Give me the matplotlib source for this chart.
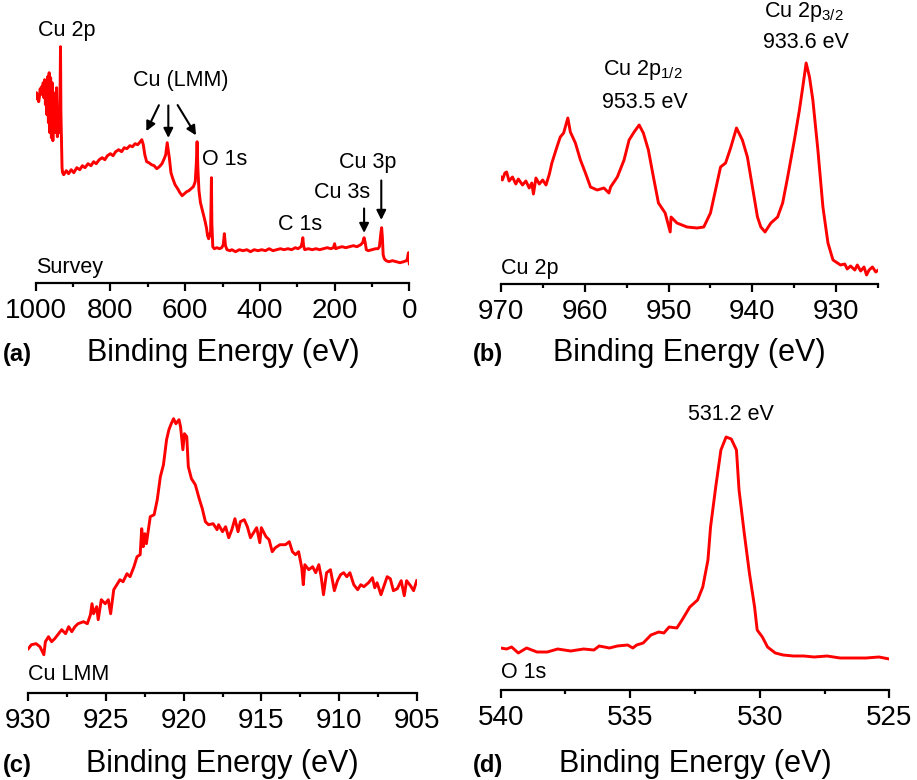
import matplotlib
matplotlib.use("Agg")
import matplotlib.pyplot as plt
from matplotlib.ticker import MultipleLocator

plt.rcParams['font.family'] = ['Liberation Sans', 'DejaVu Sans']
plt.rcParams['mathtext.default'] = 'regular'

# (a) survey spectrum, intensity in a.u.
survey_ev = [1000, 998, 996, 994, 992, 990, 988, 986, 984, 982, 980, 978, 976, 974, 972, 970,
             968, 966, 964, 962, 960, 958, 956, 954, 952, 950, 948, 946, 944, 942, 940, 938,
             936, 934.5, 933.6, 932.5, 931, 929.5, 928,
             925, 918, 912, 905, 898, 890, 882, 875, 868, 860, 852, 845, 838, 830, 822, 815,
             808, 800, 793, 786, 778, 770, 763, 756, 748, 741, 734, 727, 720, 716, 712, 708,
             703, 697, 690, 683, 676, 669, 662, 656, 652, 648, 645, 642, 638, 633, 627, 620,
             614, 608, 602, 596, 590, 584, 578, 573, 570, 568, 566, 563, 559, 555, 551, 547,
             543, 540, 537, 534, 532, 530.5, 529.6, 528.5, 526, 522, 515, 508, 502, 498, 495,
             492, 488, 480, 475, 465, 455, 445, 435, 425, 415, 405, 395, 385, 375, 365, 355,
             345, 335, 325, 315, 305, 298, 290, 287, 285, 283, 280, 270, 260, 250, 240, 230,
             220, 210, 203, 200, 197, 190, 180, 170, 160, 150, 140, 130, 125, 121, 118, 115,
             110, 100, 90, 84, 80, 76, 74, 72, 70, 67, 62, 55, 45, 35, 25, 15, 8, 5, 3, 2, 1, 0]
survey_int = [184, 190, 185, 188, 181, 186, 194, 189, 196, 188, 200, 185, 203, 178, 198, 168,
              206, 160, 210, 150, 205, 145, 200, 142, 190, 155, 185, 150, 195, 146, 175, 150,
              160, 200, 236, 170, 142, 115, 110,
              108, 112, 109, 113, 110, 115, 113, 117, 115, 119, 117, 121, 119, 123, 125, 123,
              127, 129, 127, 131, 133, 131, 135, 134, 137, 136, 139, 138, 141, 143, 138, 128,
              121, 120, 118, 117, 114, 116, 119, 124, 128, 140, 132, 124, 110, 104, 98, 94,
              90, 87, 89, 91, 92, 94, 96, 101, 120, 141, 115, 92, 80, 74, 68, 62,
              55, 47, 44, 49, 47, 80, 105, 60, 36, 34, 35, 34, 35, 38, 49,
              37, 33, 32, 33, 31, 33, 32, 33, 31, 33, 32, 33, 32, 34, 32, 33,
              34, 33, 34, 33, 35, 34, 36, 40, 45, 37, 33, 34, 33, 34, 33, 34,
              35, 34, 35, 39, 34, 35, 36, 35, 36, 37, 36, 38, 40, 45, 40, 33,
              32, 33, 34, 34, 36, 50, 55, 45, 28, 24, 22, 21, 22, 21, 20, 21, 22, 24, 29, 30, 22, 19]

# (b) Cu 2p
cu2p_ev = [970.0, 969.8, 969.5, 969.3, 969.0, 968.6, 968.2, 967.9, 967.4, 967.0, 966.6, 966.3,
           966.1, 965.8, 965.4, 965.0, 964.6, 964.2, 963.9,
           963.3, 962.9, 962.5, 962.0, 961.7, 961.1, 960.5, 959.9, 959.3, 958.5, 957.7, 957.1,
           956.9, 956.1, 955.3, 954.7, 954.1, 953.5, 953.0, 952.4, 951.8, 951.2, 950.4, 949.8,
           949.7, 949.0, 947.8, 946.6, 945.8, 945.0, 944.4, 943.8, 943.2, 942.6, 941.9, 941.2,
           940.6, 940.0, 939.4, 939.0, 938.5, 937.8, 937.0, 936.4, 935.8, 935.0, 934.4, 934.0,
           933.6, 933.2, 932.8, 932.2, 931.6, 931.0, 930.4, 929.5, 929.0, 928.7, 928.3, 927.8,
           927.5, 927.1, 926.7, 926.4, 926.1, 925.7, 925.3, 925.0]
cu2p_int = [107, 104, 111, 112, 103, 107, 100, 105, 99, 103, 96, 101,
            90, 106, 100, 104, 99, 110, 121,
            137, 147, 151, 166, 152, 141, 124, 111, 97, 94, 96, 91,
            97, 107, 124, 144, 152, 159, 151, 134, 107, 81, 71, 52,
            67, 61, 57, 56, 57, 71, 94, 117, 121, 136, 156, 144,
            127, 97, 67, 57, 52, 61, 67, 81, 107, 144, 174, 197,
            221, 207, 184, 134, 77, 41, 24, 19, 20, 15, 18, 14,
            19, 13, 17, 9, 14, 17, 12, 14]

# (c) Cu LMM
lmm_ev = [930.0, 929.8, 929.5, 929.25, 929.0, 928.9, 928.7, 928.5, 928.3, 928.1, 927.85, 927.6,
          927.4, 927.2, 927.0, 926.8, 926.45, 926.2, 926.0, 925.9, 925.8, 925.6, 925.5, 925.3,
          925.05, 924.85, 924.7, 924.5, 924.3, 924.1, 923.9, 923.65, 923.45, 923.2, 923.0, 922.8,
          922.7, 922.6, 922.5, 922.4, 922.15, 921.9, 921.7, 921.5, 921.3, 921.1, 920.95, 920.8,
          920.65, 920.5, 920.3, 920.2, 920.05, 919.95, 919.8, 919.7, 919.5, 919.25, 919.0, 918.8,
          918.6, 918.4, 918.1, 917.85, 917.75, 917.5, 917.3, 917.1, 916.9, 916.7, 916.5, 916.35,
          916.1, 915.9, 915.7, 915.5, 915.3, 915.1, 915.0, 914.7, 914.5, 914.3, 914.1, 913.8,
          913.45, 913.2, 913.0, 912.8, 912.6, 912.5, 912.4, 912.3, 912.2, 911.95, 911.7, 911.5,
          911.3, 911.15, 911.0, 910.8, 910.55, 910.3, 910.1, 909.9, 909.7, 909.5, 909.3, 909.05,
          908.8, 908.6, 908.4, 908.1, 907.85, 907.7, 907.55, 907.3, 907.1, 906.9, 906.7, 906.5,
          906.25, 906.0, 905.8, 905.65, 905.4, 905.2, 905.0]
lmm_int = [44, 48, 49, 46, 38, 51, 56, 51, 54, 58, 63, 59,
           66, 61, 66, 69, 71, 69, 78, 89, 79, 86, 73, 93,
           89, 93, 79, 103, 108, 113, 111, 119, 116, 126, 136, 138,
           164, 146, 159, 149, 176, 178, 193, 216, 228, 253, 263, 269,
           274, 269, 273, 266, 243, 259, 256, 226, 214, 208, 194, 184,
           171, 168, 169, 163, 168, 161, 166, 155, 163, 174, 161, 171,
           173, 166, 155, 160, 165, 150, 165, 156, 153, 141, 145, 148,
           148, 151, 141, 138, 141, 133, 125, 108, 128, 123, 126, 120,
           128, 116, 98, 120, 123, 102, 112, 118, 120, 116, 120, 108,
           103, 108, 106, 110, 115, 105, 110, 98, 107, 116, 114, 102,
           104, 112, 97, 112, 107, 102, 112]

# (d) O 1s
o1s_ev = [540.0, 539.77, 539.58, 539.32, 539.0, 538.6, 538.2, 537.8, 537.3, 536.8, 536.4, 536.2,
          535.8, 535.5, 535.1, 534.9, 534.75, 534.5, 534.2, 533.9, 533.7, 533.5, 533.2, 533.0,
          532.7, 532.4, 532.2, 532.0, 531.9, 531.7, 531.5, 531.3, 531.1, 530.9, 530.8, 530.6,
          530.4, 530.2, 530.1, 529.9, 529.7, 529.4, 529.1, 528.7, 528.3, 527.9, 527.4, 526.9,
          526.4, 525.9, 525.4, 525.0]
o1s_int = [42, 41, 43, 37, 42, 38, 38, 41, 39, 41, 40, 44,
           42, 44, 45, 42, 45, 47, 55, 58, 57, 63, 62, 70,
           83, 90, 103, 130, 163, 203, 240, 253, 251, 240, 200, 157,
           117, 83, 60, 53, 43, 37, 35, 34, 34, 33, 34, 32,
           32, 32, 33, 31]

W, H = 917, 780
fig = plt.figure(figsize=(W / 100, H / 100), dpi=100)


def make_ax(left, right, axis_y, top, xlim, major, minor):
    ax = fig.add_axes([left / W, 1 - axis_y / H, (right - left) / W, (axis_y - top) / H])
    ax.set_xlim(*xlim)
    ax.set_ylim(0, axis_y - top)
    for s in ['left', 'right', 'top']:
        ax.spines[s].set_visible(False)
    ax.spines['bottom'].set_linewidth(1.6)
    ax.set_yticks([])
    ax.xaxis.set_major_locator(MultipleLocator(major))
    ax.xaxis.set_minor_locator(MultipleLocator(minor))
    ax.tick_params(axis='x', which='major', direction='out', length=6, width=1.6,
                   labelsize=20, pad=5)
    ax.tick_params(axis='x', which='minor', direction='out', length=3, width=1.6)
    ax.patch.set_visible(False)
    return ax


red = '#ff0000'
lw = 2.1
fs = 15.5

# (a)
ax = make_ax(35.7, 409.3, 282.7, 5, (1000, 0), 200, 100)
ax.plot(survey_ev, survey_int, color=red, lw=lw)
ax.text(917, 252, 'Cu 2p', fontsize=fs, ha='center', va='center')
ax.text(613, 202, 'Cu (LMM)', fontsize=fs, ha='center', va='center')
ax.text(554, 123, 'O 1s', fontsize=fs, ha='left', va='center')
ax.text(352, 58, 'C 1s', fontsize=fs, ha='left', va='center')
ax.text(255, 90, 'Cu 3s', fontsize=fs, ha='left', va='center')
ax.text(188, 120, 'Cu 3p', fontsize=fs, ha='left', va='center')
ax.text(1000, 15, 'Survey', fontsize=fs, ha='left', va='center')
arrows = [((707, 149), (667, 180)), ((645, 142), (645, 180)), ((567, 145), (624, 180)),
          ((121, 47), (121, 77)), ((75, 60), (75, 105))]
for tip, tail in arrows:
    ax.annotate('', xy=tip, xytext=tail,
                arrowprops=dict(arrowstyle='-|>', color='black', lw=1.5, mutation_scale=14))

# (b)
ax = make_ax(500.7, 878.3, 284, 5, (970, 925), 10, 5)
ax.plot(cu2p_ev, cu2p_int, color=red, lw=lw)
ax.text(933.9, 272, 'Cu 2p$_{3/2}$', fontsize=fs, ha='center', va='center')
ax.text(933.6, 241, '933.6 eV', fontsize=fs, ha='center', va='center')
ax.text(953.0, 214, 'Cu 2p$_{1/2}$', fontsize=fs, ha='center', va='center')
ax.text(952.8, 181, '953.5 eV', fontsize=fs, ha='center', va='center')
ax.text(970, 16, 'Cu 2p', fontsize=fs, ha='left', va='center')

# (c)
ax = make_ax(28.3, 416.7, 692.7, 400, (930, 905), 5, 2.5)
ax.plot(lmm_ev, lmm_int, color=red, lw=lw)
ax.text(930, 18, 'Cu LMM', fontsize=fs, ha='left', va='center')

# (d)
ax = make_ax(500.7, 889.3, 690, 400, (540, 525), 5, 2.5)
ax.plot(o1s_ev, o1s_int, color=red, lw=lw)
ax.text(531.1, 275, '531.2 eV', fontsize=fs, ha='center', va='center')
ax.text(540, 17, 'O 1s', fontsize=fs, ha='left', va='center')

# axis titles and panel letters
for cx, lx, base, letter in [(223, 3, 361, '(a)'), (689, 473, 361, '(b)'),
                             (222, 3, 772, '(c)'), (695, 473, 772, '(d)')]:
    fig.text(cx / W, 1 - base / H, 'Binding Energy (eV)', fontsize=22,
             ha='center', va='baseline')
    fig.text(lx / W, 1 - base / H, letter, fontsize=17, fontweight='bold',
             ha='left', va='baseline')

fig.savefig('out.png', dpi=100)
